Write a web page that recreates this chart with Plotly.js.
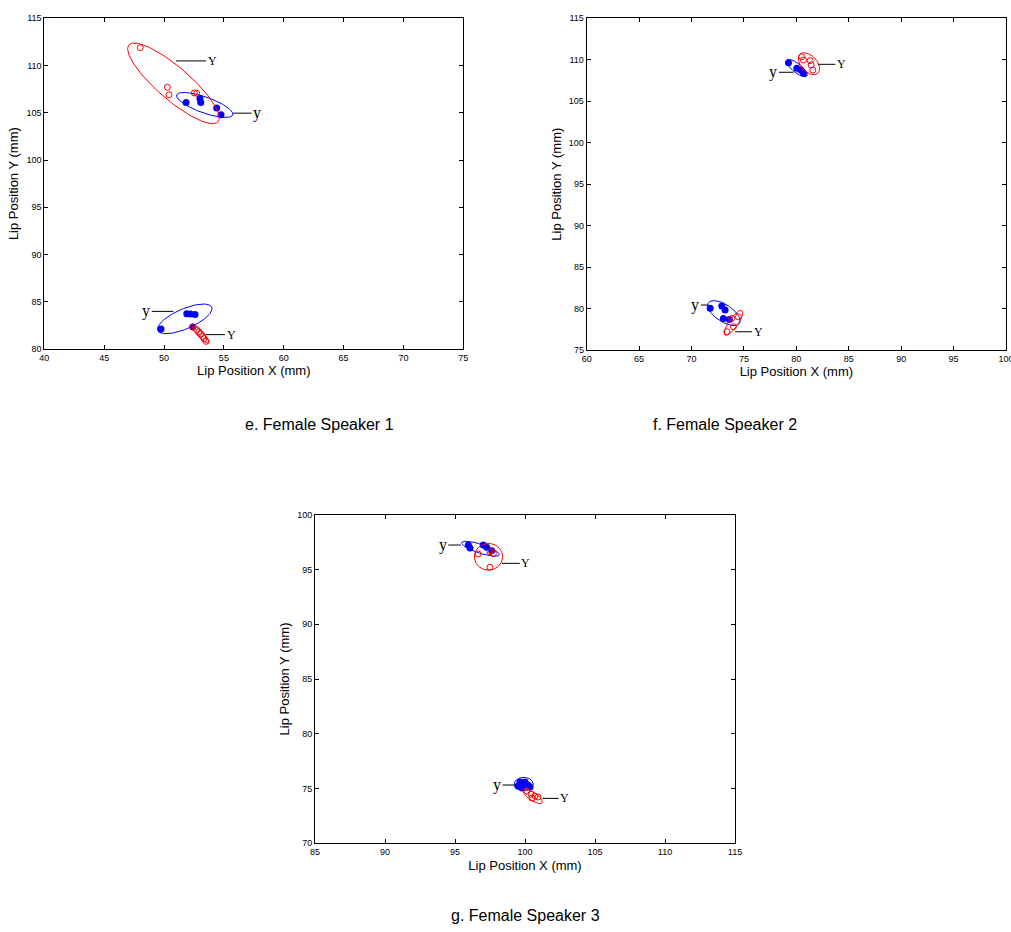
<!DOCTYPE html>
<html>
<head>
<meta charset="utf-8">
<script src="https://cdn.plot.ly/plotly-3.0.1.min.js"></script>
<style>html,body{margin:0;padding:0;background:#fff;}#chart{width:1011px;height:932px;}</style>
</head>
<body>
<div id="chart"></div>
<script>
// ---------- Data (mm) ----------
// Panel e. Female Speaker 1
const eBlueX = [51.84, 53.0, 53.07, 54.4, 54.76, 49.75, 51.9, 52.2, 52.59, 52.4];
const eBlueY = [106.1, 106.5, 106.1, 105.5, 104.8, 82.12, 83.74, 83.7, 83.64, 82.33];
const eRedX = [48.02, 50.28, 50.42, 52.53, 52.73, 52.4, 52.73, 52.92, 53.07, 53.23, 53.34, 53.51];
const eRedY = [111.9, 107.7, 106.9, 107.1, 107.07, 82.33, 82.05, 81.81, 81.60, 81.34, 81.10, 80.81];
// ellipses: [cx, cy, ux, uy, vx, vy]  (centre, semi-axis vectors in mm)
const eRedEll = [[50.79, 108.11, 3.72, -4.07, 0.89, 1.30], [53.07, 81.52, 0.668, -0.877, 0.181, 0.221]];
const eBlueEll = [[53.40, 105.83, 2.34, -1.057, 0.225, 0.797], [51.73, 83.19, 2.256, 1.237, 0.333, -0.970]];
const eUpperLabX = [51.01, 53.51], eUpperLabY = [110.49, 81.52], eUpperLabDX = [36, 25];
const eLowerLabX = [55.77, 50.78], eLowerLabY = [104.96, 83.98], eLowerLabDX = [24, -27];

// Panel f. Female Speaker 2
const fBlueX = [79.25, 80.05, 80.43, 80.68, 71.78, 72.89, 73.2, 73.04, 73.61];
const fBlueY = [109.64, 108.97, 108.76, 108.37, 80.02, 80.30, 79.81, 78.81, 78.69];
const fRedX = [80.52, 80.68, 81.32, 81.41, 81.57, 73.84, 73.37, 74.0, 74.47];
const fRedY = [110.37, 109.97, 109.89, 109.37, 108.76, 78.81, 77.2, 77.8, 79.0];
const fRedEll = [[81.20, 109.52, 0.857, -1.145, 0.555, 0.663], [74.0, 78.27, 0.797, 1.466, 0.355, -0.309]];
const fBlueEll = [[80.05, 109.0, 0.955, -0.965, 0.268, 0.423], [73.09, 79.45, 1.48, -1.242, 0.45, 0.854]];
const fUpperLabX = [82.11, 74.16], fUpperLabY = [109.45, 77.2], fUpperLabDX = [23, 23];
const fLowerLabX = [79.72, 71.61], fLowerLabY = [108.49, 80.42], fLowerLabDX = [-20, -13];

// Panel g. Female Speaker 3
const gBlueX = [95.95, 96.07, 97.02, 97.26, 97.62, 99.5, 99.64, 100.0, 100.21, 99.79, 100.36];
const gBlueY = [97.23, 96.95, 97.23, 97.02, 96.71, 75.22, 75.59, 75.59, 75.32, 75.04, 75.13];
const gRedX = [96.66, 97.5, 97.74, 97.5, 100.14, 100.43, 100.71, 100.93, 100.5];
const gRedY = [96.41, 96.62, 96.47, 95.2, 74.77, 74.49, 74.31, 74.22, 74.13];
const gRedEll = [[97.39, 96.16, 1.01, 0, 0, 1.215], [100.55, 74.28, 0.668, -0.58, 0.16, 0.302]];
const gBlueEll = [[96.82, 96.89, 1.343, -0.562, 0.1, 0.39], [99.91, 75.41, 0.68, 0, 0, 0.61]];
const gUpperLabX = [98.34, 101.26], gUpperLabY = [95.56, 74.1], gUpperLabDX = [24, 22];
const gLowerLabX = [95.41, 99.29], gLowerLabY = [97.23, 75.32], gLowerLabDX = [-18, -18];

const captions = ["e. Female Speaker 1", "f. Female Speaker 2", "g. Female Speaker 3"];

// ---------- Build ----------
const BLUE = "#0000ff", RED = "#ff0000";
const serif = "Liberation Serif, Times New Roman, serif";
const sans = "Liberation Sans, Arial, sans-serif";

function ellipse(p) {
  const xs = [], ys = [];
  const n = 120;
  for (let i = 0; i <= n; i++) {
    const t = 2 * Math.PI * i / n;
    xs.push(p[0] + p[2] * Math.cos(t) + p[4] * Math.sin(t));
    ys.push(p[1] + p[3] * Math.cos(t) + p[5] * Math.sin(t));
  }
  return {xs, ys};
}

const traces = [];
const annotations = [];
const panels = [
  {ax: "", bx: eBlueX, by: eBlueY, rx: eRedX, ry: eRedY, re: eRedEll, be: eBlueEll,
   Ux: eUpperLabX, Uy: eUpperLabY, Ud: eUpperLabDX, Lx: eLowerLabX, Ly: eLowerLabY, Ld: eLowerLabDX},
  {ax: "2", bx: fBlueX, by: fBlueY, rx: fRedX, ry: fRedY, re: fRedEll, be: fBlueEll,
   Ux: fUpperLabX, Uy: fUpperLabY, Ud: fUpperLabDX, Lx: fLowerLabX, Ly: fLowerLabY, Ld: fLowerLabDX},
  {ax: "3", bx: gBlueX, by: gBlueY, rx: gRedX, ry: gRedY, re: gRedEll, be: gBlueEll,
   Ux: gUpperLabX, Uy: gUpperLabY, Ud: gUpperLabDX, Lx: gLowerLabX, Ly: gLowerLabY, Ld: gLowerLabDX}
];

panels.forEach(P => {
  const xa = "x" + P.ax, ya = "y" + P.ax;
  traces.push({type: "scatter", mode: "markers", x: P.bx, y: P.by, xaxis: xa, yaxis: ya,
    marker: {symbol: "circle", size: 7, color: BLUE, line: {width: 0}}, showlegend: false, hoverinfo: "x+y"});
  P.be.forEach(e => {
    const el = ellipse(e);
    traces.push({type: "scatter", mode: "lines", x: el.xs, y: el.ys, xaxis: xa, yaxis: ya,
      line: {color: BLUE, width: 1}, showlegend: false, hoverinfo: "skip"});
  });
  traces.push({type: "scatter", mode: "markers", x: P.rx, y: P.ry, xaxis: xa, yaxis: ya,
    marker: {symbol: "circle-open", size: 6, color: RED, line: {width: 1, color: RED}}, showlegend: false, hoverinfo: "x+y"});
  P.re.forEach(e => {
    const el = ellipse(e);
    traces.push({type: "scatter", mode: "lines", x: el.xs, y: el.ys, xaxis: xa, yaxis: ya,
      line: {color: RED, width: 1}, showlegend: false, hoverinfo: "skip"});
  });
  P.Ux.forEach((x, i) => annotations.push({xref: xa, yref: ya, x: x, y: P.Uy[i], text: "Y",
    showarrow: true, arrowhead: 0, arrowwidth: 1, arrowcolor: "#000", ax: P.Ud[i], ay: 0, standoff: 0,
    font: {family: serif, size: 12, color: "#000"}}));
  P.Lx.forEach((x, i) => annotations.push({xref: xa, yref: ya, x: x, y: P.Ly[i], text: "y",
    showarrow: true, arrowhead: 0, arrowwidth: 1, arrowcolor: "#000", ax: P.Ld[i], ay: 0, standoff: 0,
    font: {family: serif, size: 16, color: "#000"}}));
});

const capPos = [[319, 425], [725, 425], [525, 915]];
captions.forEach((c, i) => annotations.push({xref: "paper", yref: "paper",
  x: capPos[i][0] / 1011, y: 1 - capPos[i][1] / 932, xanchor: "center", yanchor: "middle",
  text: c, showarrow: false, font: {family: sans, size: 16, color: "#000"}}));

function axis(domain, range, title, anchor) {
  return {domain: domain, range: range, anchor: anchor, dtick: 5, tick0: 0,
    showline: true, mirror: "ticks", linecolor: "#000", linewidth: 1,
    ticks: "inside", ticklen: 4, tickcolor: "#000", tickwidth: 1,
    showgrid: false, zeroline: false, fixedrange: true, ticklabeloverflow: "allow",
    tickfont: {family: sans, size: 9, color: "#000"},
    title: {text: title, font: {family: sans, size: 13, color: "#000"}, standoff: 4}};
}
const W = 1011, H = 932;
const layout = {
  width: W, height: H, margin: {l: 0, r: 0, t: 0, b: 0},
  paper_bgcolor: "#fff", plot_bgcolor: "#fff", showlegend: false,
  xaxis: axis([44.3 / W, 463.3 / W], [40, 75], "Lip Position X (mm)", "y"),
  yaxis: axis([1 - 349 / H, 1 - 18.3 / H], [80, 115], "Lip Position Y (mm)", "x"),
  xaxis2: axis([586.7 / W, 1006 / W], [60, 100], "Lip Position X (mm)", "y2"),
  yaxis2: axis([1 - 350 / H, 1 - 18.3 / H], [75, 115], "Lip Position Y (mm)", "x2"),
  xaxis3: axis([315 / W, 735 / W], [85, 115], "Lip Position X (mm)", "y3"),
  yaxis3: axis([1 - 843.3 / H, 1 - 514.7 / H], [70, 100], "Lip Position Y (mm)", "x3"),
  annotations: annotations
};
Plotly.newPlot("chart", traces, layout, {displayModeBar: false, staticPlot: true});
</script>
</body>
</html>
